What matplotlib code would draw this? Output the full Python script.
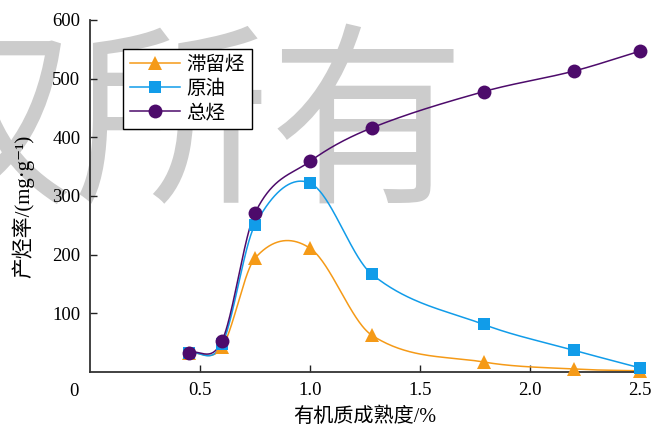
import numpy as np
import matplotlib
matplotlib.use("Agg")
import matplotlib.pyplot as plt
from matplotlib.transforms import offset_copy

# Maturity (%Ro) and hydrocarbon yields (mg/g)
maturity = [0.45, 0.60, 0.75, 1.00, 1.28, 1.79, 2.20, 2.50]
retained = [33, 42, 194, 211, 63, 17, 5, 2]
oil = [33, 47, 251, 322, 167, 81, 37, 7]
total = [33, 53, 271, 359, 416, 478, 513, 547]

series_names = ["滞留烃", "原油", "总烃"]
x_ticks = [0.5, 1.0, 1.5, 2.0, 2.5]
y_ticks = [100, 200, 300, 400, 500, 600]

CJK = ["Noto Sans CJK SC", "DejaVu Sans"]
MIXED = ["Liberation Serif", "Noto Sans CJK SC", "DejaVu Sans"]
SERIF = "Liberation Serif"


def hermite_spline(x, y, n=60):
    """Piecewise cubic Hermite curve with Catmull-Rom style tangents."""
    x = np.asarray(x, float)
    y = np.asarray(y, float)
    k = len(x)
    d = np.empty(k)
    d[0] = (y[1] - y[0]) / (x[1] - x[0])
    d[-1] = (y[-1] - y[-2]) / (x[-1] - x[-2])
    d[1:-1] = (y[2:] - y[:-2]) / (x[2:] - x[:-2])
    xs_all, ys_all = [], []
    for i in range(k - 1):
        h = x[i + 1] - x[i]
        t = np.linspace(0, 1, n)
        h00 = 2 * t**3 - 3 * t**2 + 1
        h10 = t**3 - 2 * t**2 + t
        h01 = -2 * t**3 + 3 * t**2
        h11 = t**3 - t**2
        xs_all.append(x[i] + t * h)
        ys_all.append(h00 * y[i] + h10 * h * d[i] + h01 * y[i + 1] + h11 * h * d[i + 1])
    return np.concatenate(xs_all), np.concatenate(ys_all)


fig = plt.figure(figsize=(6.65, 4.30), dpi=100)
ax = fig.add_axes([90 / 665, 58 / 430, 550 / 665, 352 / 430])
ax.patch.set_alpha(0)

# background watermark
ax.text(466 / 665, 1 - 132 / 430, "版权所有", transform=fig.transFigure,
        ha="right", va="center", fontsize=141, color="#cccccc",
        family=CJK, zorder=0, clip_on=False)

styles = [
    (retained, "#F59A17", "^", 10),
    (oil, "#119CE9", "s", 9),
    (total, "#4D0B6B", "o", 10),
]
handles = []
for (vals, color, marker, ms), name in zip(styles, series_names):
    xs, ys = hermite_spline(maturity, vals)
    ax.plot(xs, ys, color=color, lw=1.1, zorder=2)
    ax.plot(maturity, vals, ls="none", marker=marker, ms=ms, color=color,
            markeredgewidth=0, zorder=3, clip_on=False)
    h, = ax.plot([], [], color=color, lw=1.1, marker=marker, ms=ms,
                 markeredgewidth=0, label=name)
    handles.append(h)

ax.set_xlim(0, 2.5)
ax.set_ylim(0, 600)
ax.set_xticks(x_ticks)
ax.set_xticklabels([f"{v:.1f}" for v in x_ticks])
ax.set_yticks(y_ticks)
ax.set_yticklabels([str(v) for v in y_ticks])
for lab in ax.get_xticklabels() + ax.get_yticklabels():
    lab.set_fontfamily(SERIF)
    lab.set_fontsize(13.5)

ax.tick_params(direction="in", length=5, width=1.0, color="#222222", pad=7)
for side in ("top", "right"):
    ax.spines[side].set_visible(False)
for side in ("left", "bottom"):
    ax.spines[side].set_linewidth(1.3)
    ax.spines[side].set_color("#333333")

# shared origin label
ax.text(0, 0, "0", fontsize=13.5, family=SERIF, ha="center", va="center",
        transform=offset_copy(ax.transData, fig=fig, x=-16, y=-20, units="dots"))

ax.set_xlabel("有机质成熟度/%", family=MIXED, fontsize=14.5)
ax.xaxis.set_label_coords(0.5, -0.100)
ax.set_ylabel("产烃率/(mg·g⁻¹)", family=MIXED, fontsize=15)
ax.yaxis.set_label_coords(-0.102, 0.47)

leg = ax.legend(handles=handles, loc="upper left",
                bbox_to_anchor=((123 - 90) / 550, (372 - 49) / 352),
                prop={"family": MIXED, "size": 14}, frameon=True,
                fancybox=False, edgecolor="black", framealpha=1,
                borderpad=0.35, labelspacing=0.3, handlelength=2.6,
                handletextpad=0.3, borderaxespad=0)
leg.get_frame().set_linewidth(1.0)
leg.set_zorder(5)

fig.savefig("out.png", dpi=100)
